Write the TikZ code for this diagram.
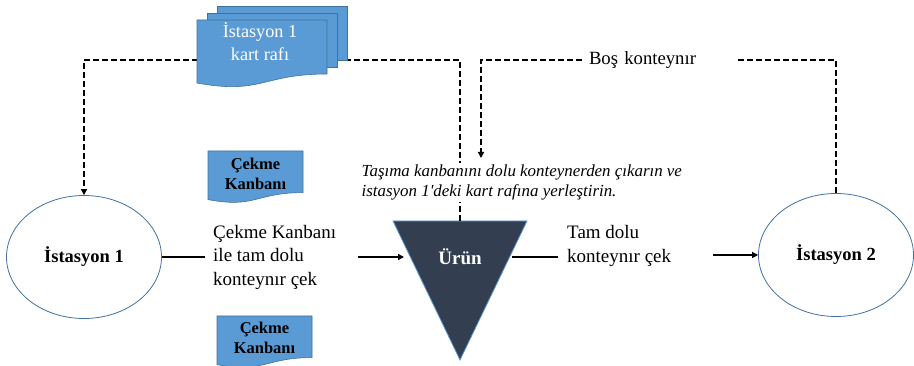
\documentclass[tikz,border=0pt]{standalone}
\usepackage{fontspec}
\setmainfont{Liberation Serif}
% same face without TeX quote mapping, so ' stays a straight apostrophe
\newfontfamily\notefont{Liberation Serif}
\usetikzlibrary{arrows.meta,shapes.geometric}
\definecolor{docblue}{HTML}{5B9BD5}
\definecolor{docedge}{HTML}{41719C}
\definecolor{slate}{HTML}{333F50}
\tikzset{
  station/.style={ellipse, draw=docedge, line width=0.8pt, minimum width=155pt,
    minimum height=123pt, font=\fontsize{18.5}{22}\selectfont\bfseries},
  flowline/.style={line width=1.8pt},
  kanbanline/.style={line width=1.8pt, dash pattern=on 6pt off 3pt},
  tip/.style={-{Triangle[length=6pt,width=6pt]}},
  lbl/.style={font=\fontsize{19}{23.5}\selectfont, align=left, inner sep=0pt},
  docfill/.style={fill=docblue, draw=docedge, line width=0.6pt},
  doctext/.style={font=\fontsize{16.5}{20}\selectfont\bfseries, align=center, inner sep=0pt},
}
% flowchart "document" symbol: top-left corner, width, height
\newcommand\kanbandoc[4]{%
  \begin{scope}[shift={(#1,#2)}]
    \draw[docfill] (0,0) -- (#3,0) -- (#3,{0.8*#4})
      .. controls ({0.5*#3},{0.8*#4}) and ({0.5*#3},{1.108*#4}) .. (0,{0.934*#4}) -- cycle;
  \end{scope}}
\begin{document}
\begin{tikzpicture}[x=1pt,y=-1pt]
\useasboundingbox (0,0) rectangle (914,366);

% stations
\node[station] (s1) at (84,257) {İstasyon 1};
\node[station] (s2) at (836,255) {İstasyon 2};

% product triangle
\filldraw[fill=slate, draw=docblue, line width=0.8pt] (393,221) -- (527,221) -- (460,360) -- cycle;
\coordinate (trtop) at (460,221);
\node[font=\fontsize{19}{22}\selectfont\bfseries, text=white] (urun) at (460,257) {Ürün};

% pull flow
\node[lbl, anchor=west] (pull) at (213,257) {Çekme Kanbanı\\ile tam dolu\\konteynır çek};
\coordinate (pullin) at (205,257);
\coordinate (pullout) at (358,257);
\coordinate (trin) at (404,257);
\draw[flowline] (s1.east) -- (pullin);
\draw[flowline, tip] (pullout) -- (trin);

\node[lbl, anchor=west] (full) at (567,246) {Tam dolu\\konteynır çek};
\coordinate (trout) at (512,257);
\coordinate (fullin) at (558,257);
\coordinate (fullout) at (713,255);
\draw[flowline] (trout) -- (fullin);
\draw[flowline, tip] (fullout) -- (s2.west);

% kanban card loop
\coordinate (k1) at (460,60);
\coordinate (k2) at (84,60);
\draw[kanbanline, tip] (trtop) -- (k1) -- (k2) -- (s1.north);

% empty container loop
\coordinate (e1) at (836,60);
\coordinate (e2) at (481,60);
\coordinate (drop) at (481,158);
\draw[kanbanline, tip] (s2.north) -- (e1) -- (e2) -- (drop);
\node[fill=white, font=\fontsize{18.7}{22}\selectfont, text width=142pt, align=left,
  inner xsep=6pt, inner ysep=3pt] (bos) at (660,60) {Boş konteynır};

\node[fill=white, anchor=north west, font=\notefont\fontsize{16.9}{20}\selectfont\itshape,
  align=left, inner sep=1.5pt] (note) at (360,163)
  {Taşıma kanbanını dolu konteynerden çıkarın ve\\istasyon 1'deki kart rafına yerleştirin.};

% card rack
\draw[docfill] (217,6) rectangle (347,60);
\draw[docfill] (207,13) rectangle (337,67);
\kanbandoc{197}{20}{130}{67.5}
\node[font=\fontsize{18.2}{23}\selectfont, text=white, align=center, inner sep=0pt] (rack) at (260,41.5)
  {İstasyon 1\\kart rafı};

% pull kanban cards
\kanbandoc{208}{151}{95}{52}
\node[doctext] (card1) at (255.5,174) {Çekme\\Kanbanı};
\kanbandoc{217}{316}{95}{52}
\node[doctext] (card2) at (264.5,338) {Çekme\\Kanbanı};
\end{tikzpicture}
\end{document}
